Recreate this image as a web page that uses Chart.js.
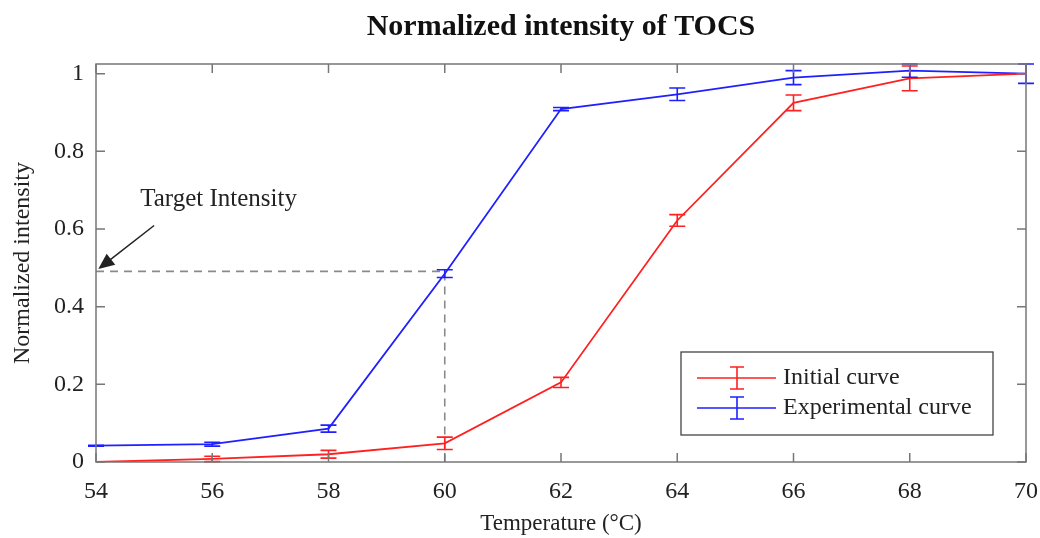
<!DOCTYPE html>
<html>
<head>
<meta charset="utf-8">
<script src="https://cdn.jsdelivr.net/npm/chart.js@4.4.0/dist/chart.umd.min.js"></script>
<style>
    html, body { margin: 0; padding: 0; background: #fff; }
    #wrap { width: 1040px; height: 538px; }
</style>
</head>
<body>
<div id="wrap"><canvas id="myChart" width="1040" height="538"></canvas></div>
<script>
// datos
const temperatures = [54, 56, 58, 60, 62, 64, 66, 68, 70];
const initialCurve = [0, 0.008, 0.02, 0.048, 0.205, 0.622, 0.925, 0.988, 1.0];
const initialErr = [0, 0.007, 0.01, 0.016, 0.013, 0.015, 0.02, 0.032, 0];
const experimentalCurve = [0.042, 0.046, 0.086, 0.485, 0.909, 0.947, 0.99, 1.008, 1.0];
const experimentalErr = [0.001, 0.005, 0.009, 0.01, 0.004, 0.016, 0.018, 0.017, 0.025];
const yTicks = [0, 0.2, 0.4, 0.6, 0.8, 1];
const targetLine = [[54, 0.491], [60, 0.491], [60, 0]];
const targetLabel = 'Target Intensity';
const targetLabelPos = [54.76, 0.675];
const targetArrow = [[55.0, 0.609], [54.04, 0.497]];

document.addEventListener('DOMContentLoaded', function () {
    const ctx = document.getElementById('myChart').getContext('2d');
    const serif = '"Liberation Serif", "DejaVu Serif", serif';
    const axisColor = '#777777';

    const toPoints = (ys) => ys.map((y, i) => ({ x: temperatures[i], y: y }));

    // barras de error, caja, ticks hacia dentro, flecha y leyenda
    const extrasPlugin = {
        id: 'extras',
        afterDatasetsDraw(chart) {
            const c = chart.ctx;
            const xs = chart.scales.x;
            const ys = chart.scales.y;
            const area = chart.chartArea;

            // barras de error
            const series = [
                { vals: initialCurve, errs: initialErr, color: '#ff2020' },
                { vals: experimentalCurve, errs: experimentalErr, color: '#2020ff' }
            ];
            c.save();
            c.lineWidth = 1.6;
            series.forEach(s => {
                c.strokeStyle = s.color;
                s.vals.forEach((v, i) => {
                    if (!s.errs[i]) return;
                    const px = xs.getPixelForValue(temperatures[i]);
                    const top = ys.getPixelForValue(v + s.errs[i]);
                    const bot = ys.getPixelForValue(v - s.errs[i]);
                    c.beginPath();
                    c.moveTo(px, top); c.lineTo(px, bot);
                    c.moveTo(px - 8, top); c.lineTo(px + 8, top);
                    c.moveTo(px - 8, bot); c.lineTo(px + 8, bot);
                    c.stroke();
                });
            });
            c.restore();

            // caja y ticks hacia dentro
            c.save();
            c.strokeStyle = axisColor;
            c.lineWidth = 1.5;
            c.strokeRect(area.left, area.top, area.right - area.left, area.bottom - area.top);
            c.beginPath();
            xs.ticks.forEach(t => {
                const px = xs.getPixelForValue(t.value);
                c.moveTo(px, area.bottom); c.lineTo(px, area.bottom - 9);
                c.moveTo(px, area.top); c.lineTo(px, area.top + 9);
            });
            ys.ticks.forEach(t => {
                const py = ys.getPixelForValue(t.value);
                c.moveTo(area.left, py); c.lineTo(area.left + 9, py);
                c.moveTo(area.right, py); c.lineTo(area.right - 9, py);
            });
            c.stroke();
            c.restore();

            // texto y flecha
            c.save();
            c.fillStyle = '#222';
            c.font = '25px ' + serif;
            c.textBaseline = 'middle';
            c.fillText(targetLabel, xs.getPixelForValue(targetLabelPos[0]), ys.getPixelForValue(targetLabelPos[1]));
            const x0 = xs.getPixelForValue(targetArrow[0][0]);
            const y0 = ys.getPixelForValue(targetArrow[0][1]);
            const x1 = xs.getPixelForValue(targetArrow[1][0]);
            const y1 = ys.getPixelForValue(targetArrow[1][1]);
            const ang = Math.atan2(y1 - y0, x1 - x0);
            c.strokeStyle = '#222';
            c.lineWidth = 1.5;
            c.beginPath();
            c.moveTo(x0, y0);
            c.lineTo(x1 - 12 * Math.cos(ang), y1 - 12 * Math.sin(ang));
            c.stroke();
            c.beginPath();
            c.moveTo(x1, y1);
            c.lineTo(x1 - 16 * Math.cos(ang) + 7 * Math.sin(ang), y1 - 16 * Math.sin(ang) - 7 * Math.cos(ang));
            c.lineTo(x1 - 16 * Math.cos(ang) - 7 * Math.sin(ang), y1 - 16 * Math.sin(ang) + 7 * Math.cos(ang));
            c.closePath();
            c.fill();
            c.restore();

            // leyenda
            const lx = 681, ly = 352, lw = 312, lh = 83;
            c.save();
            c.fillStyle = '#fff';
            c.fillRect(lx, ly, lw, lh);
            c.strokeStyle = '#444';
            c.lineWidth = 1.3;
            c.strokeRect(lx, ly, lw, lh);
            const rows = [
                { label: 'Initial curve', color: '#ff2020', y: 378 },
                { label: 'Experimental curve', color: '#2020ff', y: 408 }
            ];
            rows.forEach(r => {
                c.strokeStyle = r.color;
                c.lineWidth = 1.6;
                c.beginPath();
                c.moveTo(697, r.y); c.lineTo(776, r.y);
                c.moveTo(737, r.y - 11); c.lineTo(737, r.y + 11);
                c.moveTo(730, r.y - 11); c.lineTo(744, r.y - 11);
                c.moveTo(730, r.y + 11); c.lineTo(744, r.y + 11);
                c.stroke();
                c.fillStyle = '#222';
                c.font = '24px ' + serif;
                c.textBaseline = 'middle';
                c.fillText(r.label, 783, r.y);
            });
            c.restore();
        }
    };

    new Chart(ctx, {
        type: 'line',
        data: {
            datasets: [{
                label: 'Initial curve',
                data: toPoints(initialCurve),
                borderColor: '#ff2020',
                borderWidth: 1.8,
                pointRadius: 0,
                tension: 0
            }, {
                label: 'Experimental curve',
                data: toPoints(experimentalCurve),
                borderColor: '#2020ff',
                borderWidth: 1.8,
                pointRadius: 0,
                tension: 0
            }, {
                label: 'target',
                data: targetLine.map(p => ({ x: p[0], y: p[1] })),
                borderColor: '#8a8a8a',
                borderWidth: 1.6,
                borderDash: [8, 6],
                pointRadius: 0,
                tension: 0
            }]
        },
        options: {
            responsive: false,
            animation: false,
            layout: { padding: { left: 0, right: 14, top: 0, bottom: 0 } },
            plugins: {
                legend: { display: false },
                tooltip: { enabled: false },
                title: {
                    display: true,
                    fullSize: false,
                    text: 'Normalized intensity of TOCS',
                    color: '#111',
                    font: { family: serif, size: 30, weight: 'bold' },
                    padding: { top: 9, bottom: 19 }
                }
            },
            scales: {
                x: {
                    type: 'linear',
                    min: 54,
                    max: 70,
                    afterFit: (scale) => {
                        scale.height = 76;
                        scale.paddingLeft = 0;
                        scale.paddingRight = 0;
                    },
                    ticks: { stepSize: 2, color: '#222', font: { family: serif, size: 24 }, padding: 15 },
                    grid: { display: false, drawTicks: false },
                    border: { display: false },
                    title: {
                        display: true,
                        text: 'Temperature (°C)',
                        color: '#222',
                        font: { family: serif, size: 23 },
                        padding: { top: 0, bottom: 0 }
                    }
                },
                y: {
                    min: 0,
                    max: 1.025,
                    afterFit: (scale) => { scale.width = 96; },
                    afterBuildTicks: (scale) => { scale.ticks = yTicks.map(v => ({ value: v })); },
                    ticks: {
                        color: '#222',
                        font: { family: serif, size: 24 },
                        padding: 12,
                        callback: (v) => String(v)
                    },
                    grid: { display: false, drawTicks: false },
                    border: { display: false },
                    title: {
                        display: true,
                        text: 'Normalized intensity',
                        color: '#222',
                        font: { family: serif, size: 24 },
                        padding: { top: 8, bottom: 4 }
                    }
                }
            }
        },
        plugins: [extrasPlugin]
    });
});
</script>
</body>
</html>
